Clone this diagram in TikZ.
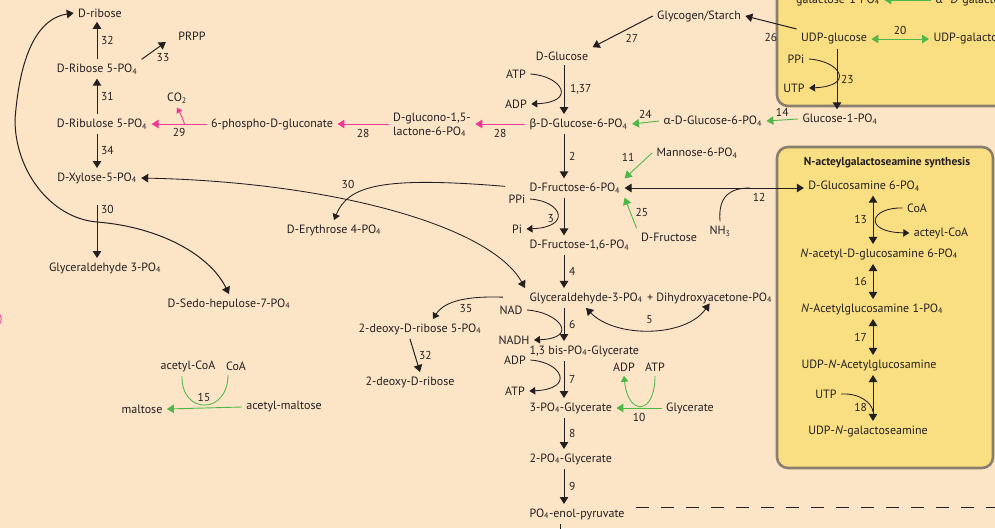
\documentclass[tikz,border=0pt]{standalone}
\usepackage{fontspec}
\setmainfont{PT Sans}
\newfontfamily\grk{Lato}
\usetikzlibrary{arrows.meta, calc}

\definecolor{bgpeach}{HTML}{FCE4C7}
\definecolor{boxyellow}{HTML}{F9DF82}
\definecolor{boxgray}{HTML}{8A7E6E}
\definecolor{pathpink}{HTML}{EC3A96}
\definecolor{pathgreen}{HTML}{4DB848}
\definecolor{ink}{HTML}{231F20}

\newcommand{\POf}{PO\textsubscript{4}}

\begin{document}
\begin{tikzpicture}[x=1pt, y=-1pt, font=\fontsize{12}{13.5}\selectfont, text=ink]
        \tikzset{met/.style={inner sep=1.5pt, outer sep=3pt},
            num/.style={inner sep=1.5pt, font=\fontsize{11.5}{13}\selectfont},
            rxn/.style={draw=ink, line width=1pt, -{Triangle[length=7pt, width=8.5pt]}},
            rxnboth/.style={rxn, {Triangle[length=7pt, width=8.5pt]}-{Triangle[length=7pt, width=8.5pt]}},
            side/.style={draw=ink, line width=0.85pt, -{Triangle[length=6pt, width=7.5pt]}},
            pinkrxn/.style={rxn, draw=pathpink},
            greenrxn/.style={rxn, draw=pathgreen, line width=0.9pt},
            greenboth/.style={rxnboth, draw=pathgreen, line width=0.9pt},
            boxframe/.style={draw=boxgray, fill=boxyellow, line width=2.6pt, rounded corners=11pt}}

        \useasboundingbox (0, 0) rectangle (995, 528);
        \clip (0, 0) rectangle (995, 528);
        \fill[bgpeach] (0, 0) rectangle (995, 528);

        % boxes on the right
        \draw[boxframe] (777, -30) rectangle (1020, 106);
        \draw[boxframe] (777, 147) rectangle (993, 468);

        \coordinate (lspine) at (97, 0);
        \coordinate (spine) at (564, 0);
        \coordinate (uspine) at (837, 0);
        \coordinate (rspine) at (873, 0);

        % pentose phosphate side
        \node[met] (drib) at (100, 13) {D-ribose};
        \node[met] (drib5p) at (97, 69) {D-Ribose 5-\POf};
        \node[met] (prpp) at (192, 36) {PRPP};
        \node[met] (dribu5p) at (102, 124) {D-Ribulose 5-\POf};
        \node[met] (co2) at (177, 98) {CO\textsubscript{2}};
        \node[met] (pgluc) at (272, 124) {6-phospho-D-gluconate};
        \node[met, align=left] (lact) at (432, 125) {D-glucono-1,5-\\lactone-6-\POf};
        \node[met] (xyl5p) at (97, 178) {D-Xylose-5-\POf};
        \node[met] (gald3p) at (105, 268) {Glyceraldehyde 3-\POf};
        \node[met] (sedo7p) at (229, 304) {D-Sedo-hepulose-7-\POf};
        \node[met] (ery4p) at (334, 230) {D-Erythrose 4-\POf};
        \node[met, anchor=east, text=pathpink] (cut) at (7, 320) {g)};

        % glycolysis column
        \node[met] (glyco) at (699, 16) {Glycogen/Starch};
        \node[met] (glc) at (562, 56) {D-Glucose};
        \node[met] (atp1) at (516, 74) {ATP};
        \node[met] (adp1) at (516, 104) {ADP};
        \node[met, anchor=west] (bg6p) at (525, 124) {{\grk β}-D-Glucose-6-\POf};
        \node[met, anchor=west] (ag6p) at (659, 121) {{\grk α}-D-Glucose-6-\POf};
        \node[met] (glc1p) at (840, 119) {Glucose-1-\POf};
        \node[met] (man6p) at (697, 153) {Mannose-6-\POf};
        \node[met, anchor=west] (fru6p) at (525, 188) {D-Fructose-6-\POf};
        \node[met] (ppi2) at (517, 199) {PPi};
        \node[met] (pi2) at (517, 229) {Pi};
        \node[met] (dfru) at (669, 237) {D-Fructose};
        \node[met] (nh3) at (720, 231) {NH\textsubscript{3}};
        \node[met, anchor=west] (fru16p) at (525, 245) {D-Fructose-1,6-\POf};
        \node[met, anchor=base west] (g3p) at (525, 301) {Glyceraldehyde-3-\POf};
        \node[met, anchor=base west, inner sep=0pt, outer sep=0pt] (dhap) at (g3p.base east) {+ Dihydroxyacetone-\POf};
        \node[met] (nad) at (511, 310) {NAD};
        \node[met] (nadh) at (514, 340) {NADH};
        \node[met] (deox5p) at (420, 329) {2-deoxy-D-ribose 5-\POf};
        \node[met] (deox) at (410, 382) {2-deoxy-D-ribose};
        \node[met, anchor=west] (bpg) at (525, 351) {1,3 bis-\POf-Glycerate};
        \node[met] (adp2) at (515, 360) {ADP};
        \node[met] (atp2) at (515, 391) {ATP};
        \node[met] (adp3) at (624, 367) {ADP};
        \node[met] (atp3) at (655, 367) {ATP};
        \node[met, anchor=west] (pg3) at (525, 408) {3-\POf-Glycerate};
        \node[met] (glyc) at (690, 408) {Glycerate};
        \node[met, anchor=west] (pg2) at (525, 459) {2-\POf-Glycerate};
        \node[met, anchor=west] (pep) at (525, 514) {\POf-enol-pyruvate};

        % maltose
        \node[met] (acoa) at (188, 366) {acetyl-CoA};
        \node[met] (coa) at (236, 366) {CoA};
        \node[met] (malt) at (142, 409) {maltose};
        \node[met] (amal) at (284, 407) {acetyl-maltose};

        % galactose box
        \node[met] (galp) at (838, 0) {galactose-1-\POf};
        \node[met, anchor=west] (agal) at (931, 0) {{\grk α}–\textit{D}-galactose-1-\POf};
        \node[met] (udpglc) at (834, 39) {UDP-glucose};
        \node[met, anchor=west] (udpgal) at (929, 39) {UDP-galactose};
        \node[met] (ppi1) at (796, 59) {PPi};
        \node[met] (utp1) at (794, 88) {UTP};

        % N-acteylgalactoseamine box
        \node[met, font=\fontsize{11.5}{13}\selectfont\bfseries] (title) at (887, 163) {N-acteylgalactoseamine synthesis};
        \node[met] (glcn6p) at (864, 186) {D-Glucosamine 6-\POf};
        \node[met] (coa2) at (917, 208) {CoA};
        \node[met] (acoa2) at (941, 233) {acteyl-CoA};
        \node[met] (nag6p) at (879, 254) {\textit{N}-acetyl-D-glucosamine 6-\POf};
        \node[met] (nag1p) at (872, 309) {\textit{N}-Acetylglucosamine 1-\POf};
        \node[met] (udpnag) at (869, 365) {UDP-\textit{N}-Acetylglucosamine};
        \node[met] (utp3) at (826, 394) {UTP};
        \node[met] (udpngal) at (868, 431) {UDP-\textit{N}-galactoseamine};

        % left column
        \draw[rxn] (drib5p.north -| lspine) -- node[num, right=2pt] {32} (drib.south -| lspine);
        \draw[rxn] (drib5p.north east) -- node[num, below right=1pt] {33} ($(prpp.west)+(-8,6)$);
        \draw[rxn] (dribu5p.north -| lspine) -- node[num, right=2pt] {31} (drib5p.south -| lspine);
        \draw[rxn] (dribu5p.south -| lspine) -- node[num, right=2pt] {34} (xyl5p.north -| lspine);
        \draw[rxn, shorten <=17pt] (xyl5p.south -| lspine) -- node[num, pos=.3, right=2pt] {30} (gald3p.north -| lspine);
        \draw[pinkrxn] (pgluc.west) -- coordinate[pos=.4] (co2j) node[num, below=2pt] {29} (dribu5p.east);
        \draw[draw=pathpink, line width=0.9pt, -{Triangle[length=5pt, width=6.5pt]}] (co2j) .. controls +(-3,-8) .. (co2.south);
        \draw[pinkrxn] (lact.west |- pgluc) -- node[num, below=3pt] {28} (pgluc.east);
        \draw[pinkrxn] (bg6p.west) -- node[num, below=3pt] {28} (bg6p.west -| lact.east);

        % transketolase curves
        \draw[rxnboth] (drib.west) .. controls (40, 18) and (20, 50) .. (15, 120)
            .. controls (15, 170) and (50, 218) .. (97, 222)
            .. controls (160, 227) and (210, 255) .. (sedo7p.north);
        \draw[rxnboth, line width=0.85pt] (xyl5p.east) .. controls (330, 182) and (490, 225) .. (g3p.north west);
        \draw[side, shorten <=20pt] (fru6p.west) .. controls (380, 176) and (348, 186) .. (ery4p.north);
        \node[num] at (348, 184) {30};

        % glycolysis
        \draw[rxn] (glyco.west) -- node[num, below right=1pt] {27} (glc.north east);
        \draw[rxn] (udpglc.north west) -- node[num, below=9pt] {26} (glyco.east);
        \draw[rxn] (glc.south -| spine) -- node[num, right=4pt] {1,37} (bg6p.north -| spine);
        \draw[greenrxn] (ag6p.west) -- node[num, above=2pt] {24} (bg6p.east);
        \draw[greenrxn] (glc1p.west) -- node[num, above=2pt] {14} (ag6p.east);
        \draw[rxn] (bg6p.south -| spine) -- node[num, right=3pt] {2} (fru6p.north -| spine);
        \draw[greenrxn] (man6p.west) -- node[num, above left=2pt] {11} (fru6p.north east);
        \draw[greenrxn] (dfru.north west) -- node[num, right=3pt] {25} (fru6p.south east);
        \draw[rxnboth] (fru6p.east) -- coordinate[pos=.7] (nhj) node[num, pos=.75, below=3pt] {12} (fru6p.east -| glcn6p.west);
        \draw[draw=ink, line width=0.85pt] (nh3.north) .. controls (718, 196) and (730, 188) .. (nhj);
        \draw[rxn] (fru6p.south -| spine) -- node[num, pos=.55, left=8pt] {3} (fru16p.north -| spine);
        \draw[rxn] (fru16p.south -| spine) -- node[num, right=3pt] {4} (g3p.north -| spine);
        \draw[rxnboth, line width=0.85pt] (g3p.south) .. controls (615, 338) and (685, 338) .. (dhap.south) node[num, pos=.5, above=4pt] {5};
        \draw[side, shorten <=22pt] (g3p.west) .. controls (470, 296) and (445, 300) .. ($(deox5p.north)+(13,0)$);
        \node[num] at (466, 309) {35};
        \draw[rxn] (deox5p.south -| deox) -- node[num, right=2pt] {32} (deox.north -| deox5p.south);
        \draw[rxn] (g3p.south -| spine) -- node[num, right=3pt] {6} (bpg.north -| spine);
        \draw[rxn] (bpg.south -| spine) -- node[num, right=3pt] {7} (pg3.north -| spine);
        \draw[rxn] (pg3.south -| spine) -- node[num, right=3pt] {8} (pg2.north -| spine);
        \draw[rxn] (pg2.south -| spine) -- node[num, right=3pt] {9} (pep.north -| spine);
        \draw[draw=ink, line width=1pt] ($(pep.south -| spine)+(-4,0)$) -- ++(0, 20);
        \draw[draw=ink, line width=1pt, dash pattern=on 13pt off 12pt, dash phase=19pt] (630, 507) -- (1000, 507);

        \foreach \a/\b in {atp1/adp1, ppi2/pi2, nad/nadh, adp2/atp2, ppi1/utp1}
            \draw[side] (\a.east) .. controls +(32, 2) and +(46, -2) .. (\b.east);

        \draw[greenrxn] (glyc.west) -- node[num, below=3pt] {10} (pg3.east);
        \draw[draw=pathgreen, line width=0.85pt, -{Triangle[length=6pt, width=7.5pt]}] (atp3.south) .. controls (655, 416) and (628, 416) .. (adp3.south);

        % maltose
        \draw[greenrxn] (amal.west) -- (malt.east);
        \draw[draw=pathgreen, line width=0.85pt] ($(acoa.south)+(-6,0)$) .. controls (181, 415) and (228, 415) .. ($(coa.south)+(-8,0)$);
        \node[num] at (204, 397) {15};

        % galactose box
        \draw[greenrxn] (agal.west) -- (galp.east);
        \draw[greenboth] (udpglc.east) -- node[num, above=2pt] {20} (udpgal.west);
        \draw[rxn] (udpglc.south -| uspine) -- node[num, right=2pt] {23} (glc1p.north -| uspine);

        % N-acteylgalactoseamine box
        \draw[rxnboth] (glcn6p.south -| rspine) -- node[num, left=4pt] {13} (nag6p.north -| rspine);
        \draw[side] (coa2.west) .. controls (870, 207) and (862, 232) .. (acoa2.west);
        \draw[rxnboth] (nag6p.south -| rspine) -- node[num, left=4pt] {16} (nag1p.north -| rspine);
        \draw[rxnboth] (nag1p.south -| rspine) -- node[num, left=4pt] {17} (udpnag.north -| rspine);
        \draw[rxnboth] (udpnag.south -| rspine) -- coordinate[pos=.8] (utpj) node[num, pos=.7, left=4pt] {18} (udpngal.north -| rspine);
        \draw[draw=ink, line width=0.85pt] (utp3.east) .. controls (860, 393) and (872, 403) .. (utpj);

    \end{tikzpicture}
\end{document}
